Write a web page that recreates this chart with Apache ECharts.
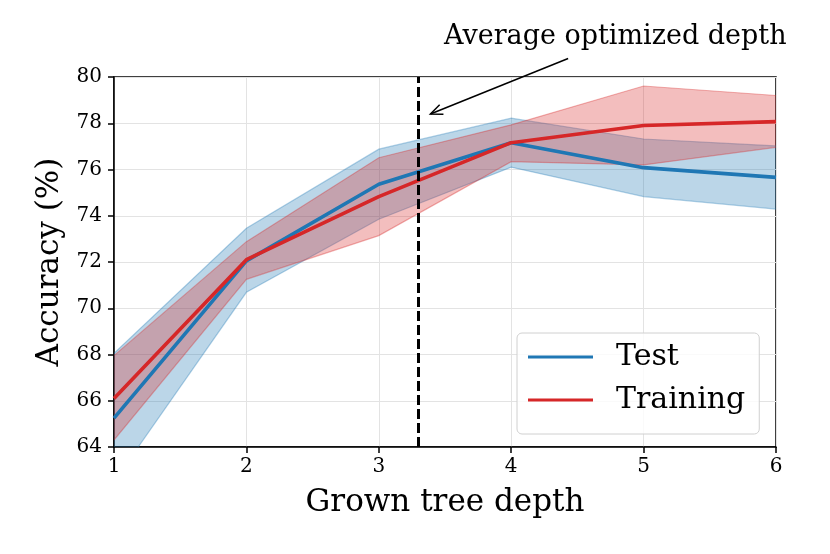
<!DOCTYPE html>
<html lang="en">
  <head>
    <meta charset="utf-8" />
    <title>Accuracy vs grown tree depth</title>
    <script
      type="text/javascript"
      src="https://cdn.jsdelivr.net/npm/echarts@6/dist/echarts.min.js"
    ></script>
    <style type="text/css">
      * {
        margin: 0;
        padding: 0;
      }
      html,
      body,
      #chart {
        width: 100%;
        height: 100%;
        overflow: hidden;
        background: #fff;
      }
    </style>
  </head>
  <body>
    <div id="chart"></div>
    <script type="text/javascript">
      // values
      var depth = [1, 2, 3, 4, 5, 6];
      var testMean = [65.25, 72.05, 75.36, 77.16, 76.08, 75.66];
      var testUpper = [68.05, 73.46, 76.88, 78.22, 77.32, 77.02];
      var testLower = [62.5, 70.69, 73.85, 76.1, 74.83, 74.29];
      var trainMean = [66.1, 72.1, 74.83, 77.16, 77.9, 78.07];
      var trainUpper = [67.95, 72.88, 76.51, 77.93, 79.61, 79.2];
      var trainLower = [64.3, 71.25, 73.14, 76.34, 76.2, 76.96];
      var optimizedDepth = 3.3;
      // annotation arrow, in data units: from text to the dashed line
      var arrowFrom = [4.43, 80.8];
      var arrowTo = [3.39, 78.4];

      var BLUE = "#1f77b4";
      var RED = "#d62728";
      var FONT = "DejaVu Serif";

      function pairs(ys) {
        return ys.map(function (y, i) {
          return [depth[i], y];
        });
      }
      function bandRows(lo, up) {
        return lo.map(function (l, i) {
          return [depth[i], l, up[i]];
        });
      }

      // fill_between-like band: one polygon drawn when dataIndex is 0
      function bandRenderer(color) {
        return function (params, api) {
          if (params.dataIndexInside !== 0) return null;
          var n = params.dataInsideLength;
          var top = [];
          var bottom = [];
          for (var i = 0; i < n; i++) {
            top.push(api.coord([api.value(0, i), api.value(2, i)]));
            bottom.push(api.coord([api.value(0, i), api.value(1, i)]));
          }
          var poly = top.concat(bottom.slice().reverse());
          return {
            type: "group",
            children: [
              {
                type: "polygon",
                shape: { points: poly },
                style: { fill: color, opacity: 0.3 },
              },
              {
                type: "polyline",
                shape: { points: top },
                style: { stroke: color, lineWidth: 1.2, opacity: 0.35, fill: null },
              },
              {
                type: "polyline",
                shape: { points: bottom },
                style: { stroke: color, lineWidth: 1.2, opacity: 0.35, fill: null },
              },
            ],
          };
        };
      }

      var chart = echarts.init(document.getElementById("chart"));

      chart.setOption({
        animation: false,
        grid: {
          left: 114,
          right: 54,
          top: 77,
          bottom: 107,
          show: true,
          borderColor: "#000",
          borderWidth: 1.5,
        },
        legend: {
          data: ["Test", "Training"],
          orient: "vertical",
          left: 517,
          top: 333,
          padding: [9, 14, 19, 11],
          itemGap: 13,
          itemWidth: 65,
          itemHeight: 3,
          icon: "rect",
          backgroundColor: "rgba(255,255,255,0.8)",
          borderColor: "#d0d0d0",
          borderWidth: 1,
          borderRadius: 5,
          textStyle: {
            fontFamily: FONT,
            fontSize: 30,
            color: "#000",
            padding: [0, 0, 0, 18],
          },
        },
        xAxis: {
          type: "value",
          min: 1,
          max: 6,
          interval: 1,
          name: "Grown tree depth",
          nameLocation: "middle",
          nameGap: 40,
          nameTextStyle: { fontFamily: FONT, fontSize: 31, color: "#000" },
          axisLine: { lineStyle: { color: "#000", width: 1.5 } },
          axisTick: { inside: false, length: 6, lineStyle: { color: "#000", width: 1.5 } },
          axisLabel: { fontFamily: FONT, fontSize: 20, color: "#000", margin: 10 },
          splitLine: { lineStyle: { color: "#e3e3e3", width: 1 } },
        },
        yAxis: {
          type: "value",
          min: 64,
          max: 80,
          interval: 2,
          name: "Accuracy (%)",
          nameLocation: "middle",
          nameRotate: 90,
          nameGap: 47,
          nameTextStyle: { fontFamily: FONT, fontSize: 31, color: "#000" },
          axisLine: { lineStyle: { color: "#000", width: 1.5 } },
          axisTick: { inside: false, length: 6, lineStyle: { color: "#000", width: 1.5 } },
          axisLabel: { fontFamily: FONT, fontSize: 20, color: "#000", margin: 12 },
          splitLine: { lineStyle: { color: "#e3e3e3", width: 1 } },
        },
        series: [
          {
            name: "testBand",
            type: "custom",
            clip: true,
            silent: true,
            data: bandRows(testLower, testUpper),
            encode: { x: 0, y: [1, 2] },
            renderItem: bandRenderer(BLUE),
          },
          {
            name: "trainBand",
            type: "custom",
            clip: true,
            silent: true,
            data: bandRows(trainLower, trainUpper),
            encode: { x: 0, y: [1, 2] },
            renderItem: bandRenderer(RED),
          },
          {
            name: "Test",
            type: "line",
            data: pairs(testMean),
            symbol: "none",
            color: BLUE,
            lineStyle: { color: BLUE, width: 3.6 },
          },
          {
            name: "Training",
            type: "line",
            data: pairs(trainMean),
            symbol: "none",
            color: RED,
            lineStyle: { color: RED, width: 3.6 },
            markLine: {
              silent: true,
              symbol: "none",
              label: { show: false },
              lineStyle: { color: "#000", width: 3, type: [10, 4] },
              data: [{ xAxis: optimizedDepth }],
            },
          },
        ],
      });

      // annotation: text and an open-headed arrow pointing at the dashed line
      var p0 = chart.convertToPixel({ gridIndex: 0 }, arrowFrom);
      var p1 = chart.convertToPixel({ gridIndex: 0 }, arrowTo);
      var ang = Math.atan2(p0[1] - p1[1], p0[0] - p1[0]);
      var headLen = 13;
      var spread = 0.4;
      var h1 = [p1[0] + headLen * Math.cos(ang + spread), p1[1] + headLen * Math.sin(ang + spread)];
      var h2 = [p1[0] + headLen * Math.cos(ang - spread), p1[1] + headLen * Math.sin(ang - spread)];

      chart.setOption({
        graphic: [
          {
            type: "text",
            left: 444,
            top: 23,
            style: {
              text: "Average optimized depth",
              fontFamily: FONT,
              fontSize: 27,
              fill: "#000",
            },
          },
          {
            type: "line",
            shape: { x1: p0[0], y1: p0[1], x2: p1[0], y2: p1[1] },
            style: { stroke: "#000", lineWidth: 1.5 },
          },
          {
            type: "polyline",
            shape: { points: [h1, p1, h2] },
            style: { stroke: "#000", lineWidth: 1.5, fill: null },
          },
        ],
      });
    </script>
  </body>
</html>
